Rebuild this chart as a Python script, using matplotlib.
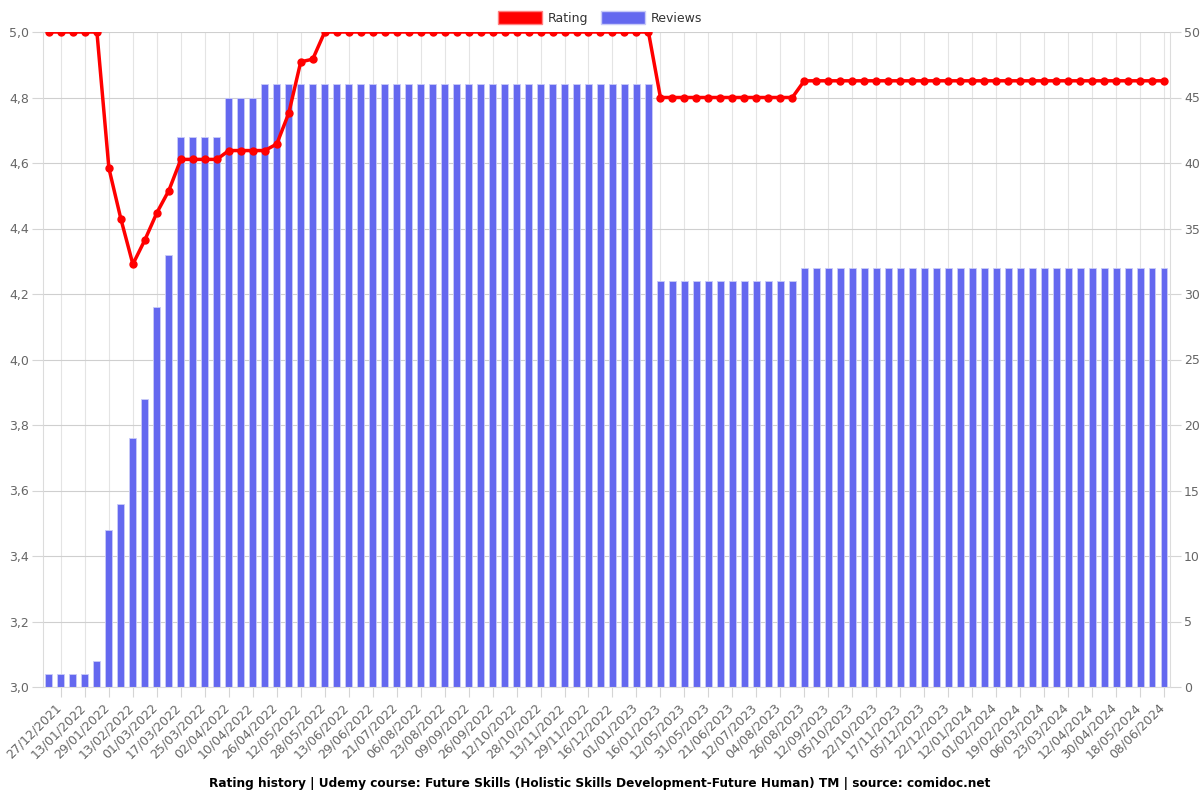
import matplotlib
matplotlib.use("Agg")
import matplotlib.pyplot as plt
import matplotlib.transforms as mtransforms
import numpy as np

# tick labels (one every second entry, starting with the second)
dates = ["27/12/2021", "13/01/2022", "29/01/2022", "13/02/2022", "01/03/2022", "17/03/2022",
         "25/03/2022", "02/04/2022", "10/04/2022", "26/04/2022", "12/05/2022", "28/05/2022",
         "13/06/2022", "29/06/2022", "21/07/2022", "06/08/2022", "23/08/2022", "09/09/2022",
         "26/09/2022", "12/10/2022", "28/10/2022", "13/11/2022", "29/11/2022", "16/12/2022",
         "01/01/2023", "16/01/2023", "12/05/2023", "31/05/2023", "21/06/2023", "12/07/2023",
         "04/08/2023", "26/08/2023", "12/09/2023", "05/10/2023", "22/10/2023", "17/11/2023",
         "05/12/2023", "22/12/2023", "12/01/2024", "01/02/2024", "19/02/2024", "06/03/2024",
         "23/03/2024", "12/04/2024", "30/04/2024", "18/05/2024", "08/06/2024"]

reviews = ([1, 1, 1, 1, 2, 12, 14, 19, 22, 29, 33, 42, 42, 42, 42, 45, 45, 45]
           + [46] * 33 + [31] * 12 + [32] * 31)

rating = ([5.0, 5.0, 5.0, 5.0, 5.0, 4.584, 4.429, 4.291, 4.365, 4.448, 4.516,
           4.611, 4.611, 4.611, 4.611, 4.638, 4.638, 4.638, 4.638, 4.658, 4.752, 4.909, 4.917]
          + [5.0] * 28 + [4.80] * 12 + [4.851] * 31)

x = np.arange(len(reviews))
grey = "#666666"
tickc = "#d5d5d5"

fig = plt.figure(figsize=(12, 8), dpi=100)
ax = fig.add_axes([0.0358, 0.14125, 0.9392, 0.81875])
ax.bar(x, reviews, width=0.58, color="#6468ef", edgecolor="#c9cbf8", linewidth=0.6, label="Reviews", zorder=2)
ax.set_ylim(0, 50)
ax.set_yticks(np.arange(0, 51, 5))
ax.set_xlim(-0.5, len(x) - 0.5)
ax.set_xticks(x[1::2])
ax.set_xticklabels(dates, rotation=45, ha="right", rotation_mode="anchor")
ax.grid(True, axis="y", color="#cfcfcf", linewidth=0.8, zorder=0)
ax.grid(True, axis="x", color="#e4e4e4", linewidth=0.8, zorder=0)
ax.set_axisbelow(True)
ax.tick_params(axis="x", colors=tickc, labelcolor=grey, labelsize=9, length=7, pad=3)
# nudge the rotated labels a little to the left, as in the original
shift = mtransforms.ScaledTranslation(-6 / 100, 0, fig.dpi_scale_trans)
for lab in ax.get_xticklabels():
    lab.set_transform(lab.get_transform() + shift)

ax2 = ax.twinx()
ax2.plot(x, rating, color="#ff0000", linewidth=2.5, marker="o", markersize=5, label="Rating", zorder=3)
ax2.set_ylim(3.0, 5.0)
ax2.set_yticks(np.arange(3.0, 5.01, 0.2))
ax2.set_yticklabels([f"{v:.1f}".replace(".", ",") for v in np.arange(3.0, 5.01, 0.2)])
ax2.yaxis.tick_left()
ax2.tick_params(axis="y", colors=tickc, labelcolor=grey, labelsize=9, length=8, pad=2)
ax.yaxis.tick_right()
ax.tick_params(axis="y", colors=tickc, labelcolor=grey, labelsize=9, length=8, pad=2)

for s in ax.spines.values():
    s.set_color("#dcdcdc")
    s.set_linewidth(0.8)
ax.spines["top"].set_visible(False)
for s in ax2.spines.values():
    s.set_visible(False)

h1 = plt.Rectangle((0, 0), 1, 1, facecolor="#ff0000", edgecolor="#ff8080")
h2 = plt.Rectangle((0, 0), 1, 1, facecolor="#6468ef", edgecolor="#c9cbf8")
fig.legend([h1, h2], ["Rating", "Reviews"], loc="upper center", bbox_to_anchor=(0.5, 1.0),
           ncol=2, frameon=False, fontsize=9, handlelength=3.5, handleheight=1.2,
           columnspacing=1.0, handletextpad=0.5, labelcolor="#333333")

fig.text(0.5, 0.016, "Rating history | Udemy course: Future Skills (Holistic Skills Development-Future Human) TM | source: comidoc.net",
         ha="center", fontsize=8.7, fontweight="bold")

fig.savefig("out.png", dpi=100)
